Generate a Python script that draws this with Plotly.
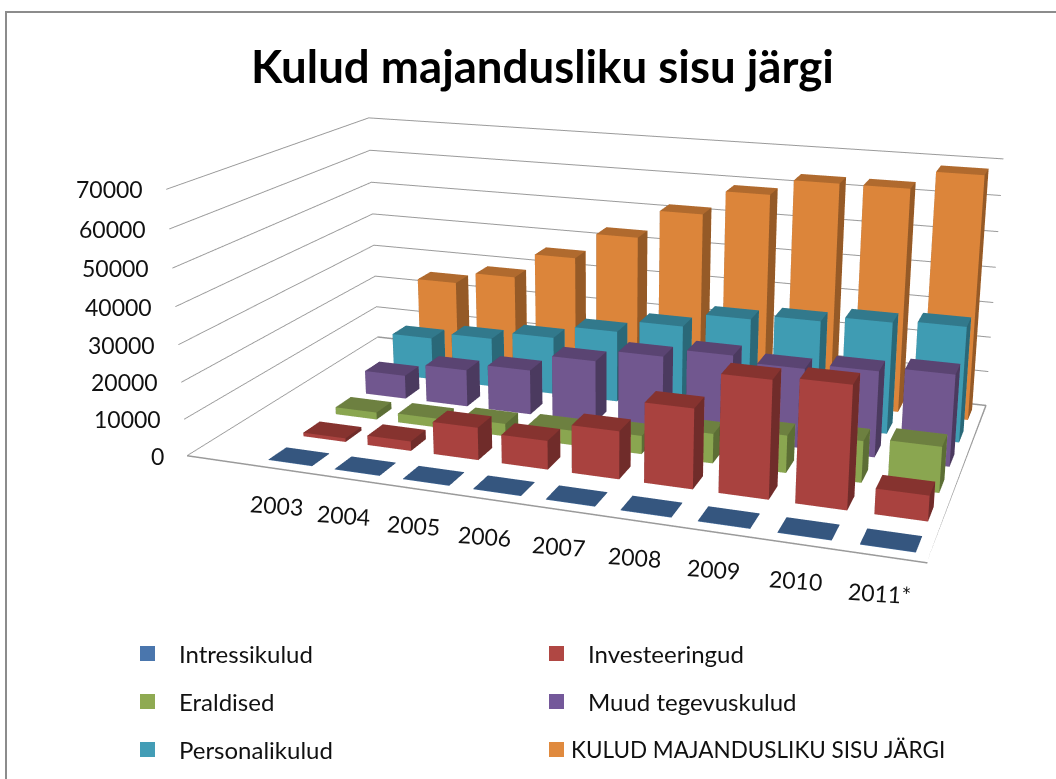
import plotly.graph_objects as go

years = ["2003", "2004", "2005", "2006", "2007", "2008", "2009", "2010", "2011*"]
z_ticks = [0, 10000, 20000, 30000, 40000, 50000, 60000, 70000]
series_names = ["Intressikulud", "Investeeringud", "Eraldised", "Muud tegevuskulud",
                "Personalikulud", "KULUD MAJANDUSLIKU SISU JÄRGI"]
intressikulud = [150, 150, 150, 150, 150, 150, 150, 150, 150]
investeeringud = [1000, 2600, 8800, 7700, 12700, 21000, 30500, 31500, 6500]
eraldised = [2000, 2500, 3500, 4000, 5000, 8000, 10000, 11000, 12000]
muud = [6800, 10600, 12700, 17500, 20900, 23300, 21800, 23300, 24600]
personal = [12500, 14400, 16700, 20500, 24000, 28000, 29400, 31000, 31800]
kokku = [24500, 28000, 35500, 43200, 51500, 58500, 63000, 63000, 68000]
all_values = [intressikulud, investeeringud, eraldised, muud, personal, kokku]

front = ["#3f6797", "#a9423f", "#8aa650", "#71578f", "#3f9cb3", "#dc853a"]
side = ["#2f4d72", "#702c2a", "#5c6e35", "#4b3a5f", "#2a6878", "#955a27"]
top = ["#35567f", "#86332f", "#6d8040", "#5a4472", "#32798c", "#b06a2e"]
legend_col = ["#4a76ad", "#b04743", "#8faa52", "#74589a", "#439db6", "#e08a3e"]

BAR_W = 0.66
BAR_D = 0.5

def box(ix, iy, h, cf, cs, ct):
    x0, x1 = ix + (1 - BAR_W) / 2, ix + (1 + BAR_W) / 2
    y0, y1 = iy + (1 - BAR_D) / 2, iy + (1 + BAR_D) / 2
    xs = [x0, x1, x1, x0, x0, x1, x1, x0]
    ys = [y0, y0, y1, y1, y0, y0, y1, y1]
    zs = [0, 0, 0, 0, h, h, h, h]
    faces = [(0, 1, 5, cf), (0, 5, 4, cf), (1, 2, 6, cs), (1, 6, 5, cs),
             (4, 5, 6, ct), (4, 6, 7, ct), (0, 3, 7, cs), (0, 7, 4, cs),
             (3, 2, 6, cf), (3, 6, 7, cf), (0, 1, 2, ct), (0, 2, 3, ct)]
    return xs, ys, zs, faces

fig = go.Figure()
for s, vals in enumerate(all_values):
    X, Y, Z, I, J, K, C = [], [], [], [], [], [], []
    for ix, v in enumerate(vals):
        xs, ys, zs, faces = box(ix, s, v, front[s], side[s], top[s])
        n = len(X)
        X += xs; Y += ys; Z += zs
        for a, b, c, col in faces:
            I.append(n + a); J.append(n + b); K.append(n + c); C.append(col)
    fig.add_trace(go.Mesh3d(x=X, y=Y, z=Z, i=I, j=J, k=K, facecolor=C, flatshading=True,
                            name=series_names[s], hoverinfo="name",
                            lighting=dict(ambient=1, diffuse=0, specular=0, fresnel=0, roughness=1)))

nx, ny = len(years), len(series_names)
XMIN = -0.95
fig.add_trace(go.Scatter3d(x=[XMIN, nx, nx, XMIN, XMIN], y=[0, 0, ny, ny, 0], z=[0, 0, 0, 0, 0], mode="lines",
                           line=dict(color="#9a9a9a", width=3), hoverinfo="skip", showlegend=False))

label_font = dict(family="Lato, sans-serif", size=23, color="#111111")
scene_notes = []
for v in z_ticks:
    scene_notes.append(dict(x=XMIN, y=0, z=v, text=str(v), showarrow=False, xanchor="right", yanchor="middle",
                            xshift=-21, yshift=0, font=label_font))
for i, yr in enumerate(years):
    scene_notes.append(dict(x=i + 0.5, y=0, z=0, text=yr, showarrow=False, xanchor="center", yanchor="middle",
                            xshift=-5, yshift=-36, textangle=4, font=label_font))

TOP = -368.0
W, H = 1206.0, 1345.0
fig.update_layout(
    width=W, height=H, margin=dict(l=0, r=0, t=0, b=0), paper_bgcolor="white",
    showlegend=False,
    scene=dict(
        domain=dict(x=[0.0, 1.0], y=[0.0, 1.0]),
        aspectmode="manual", aspectratio=dict(x=1.0, y=0.565, z=0.37),
        camera=dict(eye=dict(x=0.72, y=-2.034, z=0.639), center=dict(x=0, y=0, z=0),
                    projection=dict(type="perspective")),
        xaxis=dict(range=[XMIN, nx], tickvals=[i + 0.5 for i in range(nx)], ticktext=years, title="",
                   showgrid=False, zeroline=False, showbackground=False, showline=False,
                   ticks="", showticklabels=False),
        yaxis=dict(range=[0, ny], showticklabels=False, title="", showgrid=False, zeroline=False,
                   showbackground=False, showline=False, ticks=""),
        zaxis=dict(range=[0, 70000], tickvals=z_ticks, title="", showgrid=True,
                   gridcolor="#9a9a9a", gridwidth=2, zeroline=False, showbackground=False,
                   showline=False, ticks="", showticklabels=False),
        annotations=scene_notes,
    ),
)

def px(x):
    return x / W

def py(y):
    return 1 - (y - TOP) / H

fig.add_shape(type="rect", xref="paper", yref="paper", x0=px(6), x1=px(1070), y0=py(800), y1=py(12),
              line=dict(color="#8c8c8c", width=2), fillcolor="rgba(0,0,0,0)")
fig.add_annotation(text="<b>Kulud majandusliku sisu järgi</b>", xref="paper", yref="paper",
                   x=px(542), y=py(65), yanchor="middle", showarrow=False,
                   font=dict(family="Lato, sans-serif", size=45.6, color="#000000"))

legend_pos = [(140, 654, 177), (549, 654, 586), (140, 702, 177), (549, 702, 586), (140, 750, 177), (549, 750, 569)]
legend_sizes = [24, 24, 24, 24, 24, 22.5]
for (sx, sy, tx), name, col, fs in zip(legend_pos, series_names, legend_col, legend_sizes):
    fig.add_shape(type="rect", xref="paper", yref="paper", x0=px(sx), x1=px(sx + 15),
                  y0=py(sy + 7), y1=py(sy - 8), fillcolor=col, line=dict(width=0))
    fig.add_annotation(text=name, xref="paper", yref="paper", x=px(tx), y=py(sy - 1), xanchor="left", yanchor="middle",
                       showarrow=False, font=dict(family="Lato, sans-serif", size=fs, color="#111111"))

fig.write_html("out.html", post_script=(
    "document.documentElement.style.overflow='hidden';document.body.style.overflow='hidden';"
    "document.body.style.margin='0';"
    "var g=document.querySelector('.plotly-graph-div');"
    "g.style.position='absolute';g.style.left='0px';g.style.top='%dpx';" % TOP))
